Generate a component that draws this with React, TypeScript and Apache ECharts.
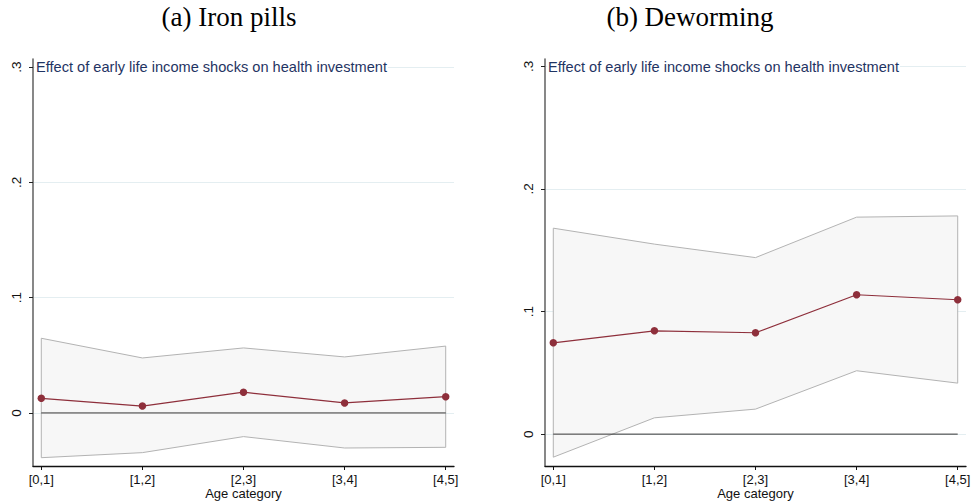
import React, { useEffect, useRef } from "react";
import * as echarts from "echarts";

const categories = ["[0,1]", "[1,2]", "[2,3]", "[3,4]", "[4,5]"];
const catIdx = [0, 1, 2, 3, 4];
const yTicks = [0, 0.1, 0.2, 0.3];

const ironEst = [0.0127, 0.006, 0.018, 0.0087, 0.0141];
const ironUpper = [0.0648, 0.0477, 0.0564, 0.0486, 0.058];
const ironLower = [-0.0388, -0.0344, -0.0205, -0.0304, -0.0298];

const dewEst = [0.0745, 0.0843, 0.0827, 0.1137, 0.1096];
const dewUpper = [0.168, 0.155, 0.144, 0.177, 0.178];
const dewLower = [-0.0188, 0.0133, 0.0204, 0.0517, 0.0416];

const panelTitles = ["(a) Iron pills", "(b) Deworming"];
const noteText = "Effect of early life income shocks on health investment";
const xName = "Age category";

const SANS = "Liberation Sans, Arial, sans-serif";
const SERIF = "Liberation Serif, Times New Roman, serif";

function fmtY(v: number) {
  if (Math.abs(v) < 1e-9) return "0";
  return String(Math.round(v * 10) / 10).replace(/^0/, "");
}

function panel(i: number, est: number[], upper: number[], lower: number[], ymin: number, ymax: number) {
  const xAxis = {
    type: "value",
    gridIndex: i,
    min: -0.082,
    max: 4.082,
    axisLine: { show: true, onZero: false, lineStyle: { color: "#111", width: 1.3 } },
    axisTick: { show: true, customValues: catIdx, length: 4, lineStyle: { color: "#111", width: 1 } },
    axisLabel: {
      customValues: catIdx,
      formatter: (v: number) => categories[Math.round(v)],
      fontSize: 13,
      lineHeight: 13,
      color: "#111",
      margin: 7,
      fontFamily: SANS,
    },
    splitLine: { show: false },
    name: xName,
    nameLocation: "middle",
    nameGap: 21,
    nameMoveOverlap: false,
    nameTextStyle: { fontSize: 13, lineHeight: 13, color: "#111", fontFamily: SANS },
  };
  const yAxis = {
    type: "value",
    gridIndex: i,
    min: ymin,
    max: ymax,
    axisLine: { show: true, onZero: false, lineStyle: { color: "#6a6a6a", width: 1.6 } },
    axisTick: { show: true, customValues: yTicks, length: 4, lineStyle: { color: "#222", width: 1 } },
    axisLabel: {
      customValues: yTicks,
      formatter: fmtY,
      rotate: 90,
      fontSize: 13.5,
      color: "#111",
      margin: 10,
      fontFamily: SANS,
    },
    splitLine: { show: false },
  };
  const series = [
    {
      type: "line",
      xAxisIndex: i,
      yAxisIndex: i,
      data: [[0, 0]],
      symbol: "none",
      lineStyle: { opacity: 0 },
      z: 0,
      silent: true,
      markLine: {
        silent: true,
        z: 0,
        symbol: "none",
        label: { show: false },
        lineStyle: { color: "#e4eef1", width: 1, type: "solid" },
        data: yTicks.map((v) => ({ yAxis: v })),
      },
    },
    {
      type: "custom",
      xAxisIndex: i,
      yAxisIndex: i,
      z: 1,
      data: [[0, 0]],
      renderItem: (params: any, api: any) => {
        const pts: number[][] = [];
        upper.forEach((v, k) => pts.push(api.coord([k, v])));
        for (let k = lower.length - 1; k >= 0; k--) pts.push(api.coord([k, lower[k]]));
        return {
          type: "polygon",
          shape: { points: pts },
          style: { fill: "#f7f7f7", stroke: "#b3b3b3", lineWidth: 1 },
        };
      },
    },
    {
      type: "line",
      xAxisIndex: i,
      yAxisIndex: i,
      data: [[0, 0], [4, 0]],
      symbol: "none",
      lineStyle: { color: "#333333", width: 1 },
      z: 2,
    },
    {
      type: "line",
      xAxisIndex: i,
      yAxisIndex: i,
      data: est.map((v, k) => [k, v]),
      symbol: "circle",
      symbolSize: 7.5,
      itemStyle: { color: "#8e2f3b" },
      lineStyle: { color: "#8e2f3b", width: 1.2 },
      z: 3,
    },
  ];
  return { xAxis, yAxis, series };
}

function titleText(x: number, text: string) {
  return {
    type: "text",
    x,
    y: 17,
    z: 10,
    style: {
      text,
      fontFamily: SERIF,
      fontSize: 27,
      fill: "#000",
      textAlign: "center",
      textVerticalAlign: "middle",
    },
  };
}

function noteGraphic(x: number) {
  return {
    type: "text",
    x,
    y: 67,
    z: 10,
    style: {
      text: noteText,
      fontFamily: SANS,
      fontSize: 14.6,
      fill: "#1f3463",
      backgroundColor: "#ffffff",
      padding: [0, 1],
      textAlign: "left",
      textVerticalAlign: "middle",
    },
  };
}

export default function App() {
  const ref = useRef<HTMLDivElement>(null);
  useEffect(() => {
    if (!ref.current) return;
    const chart = echarts.init(ref.current, null, { renderer: "svg" });
    const p1 = panel(0, ironEst, ironUpper, ironLower, -0.046, 0.307);
    const p2 = panel(1, dewEst, dewUpper, dewLower, -0.026, 0.306);
    chart.setOption({
      animation: false,
      backgroundColor: "#ffffff",
      grid: [
        { left: 33, top: 59, width: 421, height: 407, outerBoundsMode: "none", containLabel: false },
        { left: 545, top: 59, width: 421, height: 407, outerBoundsMode: "none", containLabel: false },
      ],
      xAxis: [p1.xAxis, p2.xAxis],
      yAxis: [p1.yAxis, p2.yAxis],
      series: [...p1.series, ...p2.series],
      graphic: [
        titleText(229, panelTitles[0]),
        titleText(690, panelTitles[1]),
        noteGraphic(35),
        noteGraphic(547),
      ],
    });
    return () => chart.dispose();
  }, []);
  return (
    <div
      ref={ref}
      style={{ position: "fixed", left: 0, top: 0, width: 973, height: 503, background: "#fff" }}
    />
  );
}
